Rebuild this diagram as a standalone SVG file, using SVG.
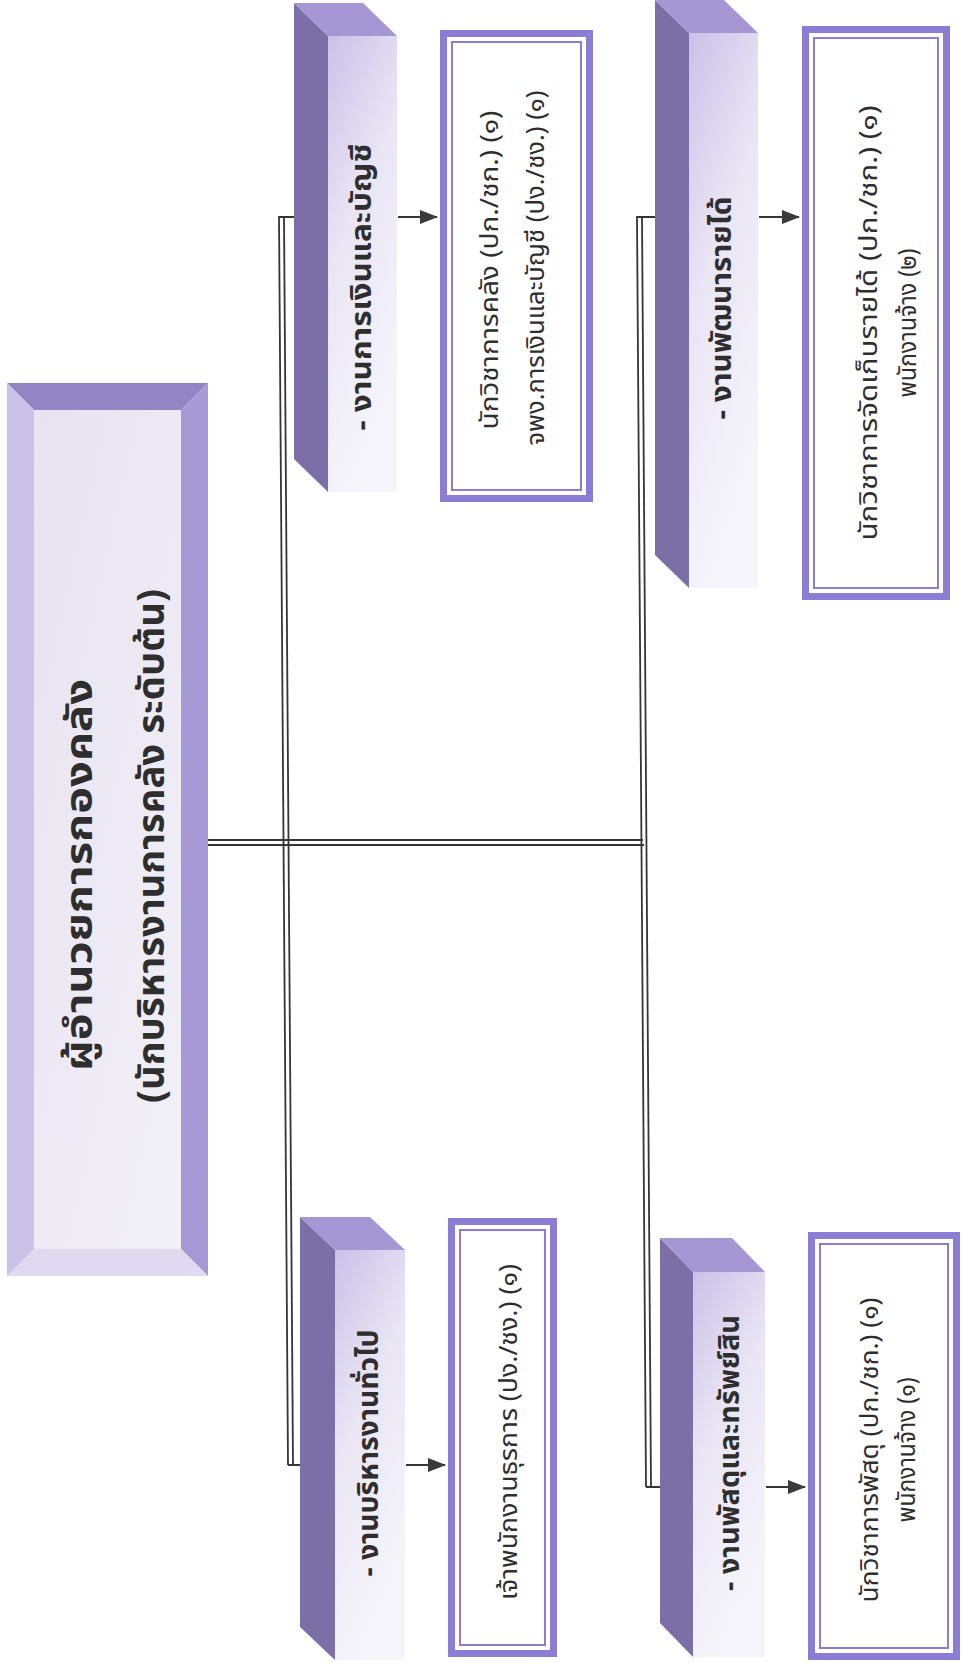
<svg xmlns="http://www.w3.org/2000/svg" width="964" height="1663" viewBox="0 0 964 1663">
<defs>
<style>
.t{font-family:'Noto Sans Thai','Noto Sans','DejaVu Sans',sans-serif;fill:#2e2e2e;text-anchor:middle}
.main{font-size:37px;font-weight:bold}
.hd{font-size:28px;font-weight:bold}
.bx{font-size:25px}
.ln{fill:none;stroke:#353535;stroke-width:1.8}
.frame{fill:#fff;stroke:#8b7dd3;stroke-width:7}
.inner{fill:none;stroke:#8b7dd3;stroke-width:2}
.side{fill:#7c6ea7}
.top{fill:#a597d3}
.front{fill:url(#gFront)}
</style>
<linearGradient id="gFront" x1="0" y1="0" x2="0.35" y2="1">
<stop offset="0" stop-color="#cbc1e8"/>
<stop offset="0.45" stop-color="#e9e5f4"/>
<stop offset="1" stop-color="#f6f5fb"/>
</linearGradient>
<linearGradient id="gMain" x1="0" y1="0" x2="1" y2="1">
<stop offset="0" stop-color="#e6e2f1"/>
<stop offset="1" stop-color="#f3f1f8"/>
</linearGradient>
<marker id="ah2" markerWidth="18" markerHeight="14" refX="17" refY="7" orient="auto" markerUnits="userSpaceOnUse" viewBox="0 0 18 14">
<path d="M0,0 L18,7 L0,14 Z" fill="#3a3a3a"/>
</marker>
</defs>
<rect width="964" height="1663" fill="#ffffff"/>

<g id="connectors">
<path class="ln" d="M208,840 H643"/>
<path class="ln" d="M208,845 H644"/>
<path class="ln" d="M288,1465 L279,217 H314" marker-end="url(#ah2)"/>
<path class="ln" d="M284,217 L293,1465"/>
<path class="ln" d="M288,1465 H322" marker-end="url(#ah2)"/>
<path class="ln" d="M646,1487 L637,217 H673" marker-end="url(#ah2)"/>
<path class="ln" d="M642,217 L651,1487"/>
<path class="ln" d="M646,1487 H682" marker-end="url(#ah2)"/>
<path class="ln" d="M398,217 H437" marker-end="url(#ah2)"/>
<path class="ln" d="M759,217 H799" marker-end="url(#ah2)"/>
<path class="ln" d="M406,1465 H445" marker-end="url(#ah2)"/>
<path class="ln" d="M766,1487 H805" marker-end="url(#ah2)"/>
</g>

<g id="main">
<rect x="7" y="383" width="201" height="893" fill="url(#gMain)"/>
<polygon points="7,383 208,383 181,410 34,410" fill="#9185c3"/>
<polygon points="208,383 208,1276 181,1249 181,410" fill="#a799d6"/>
<polygon points="7,1276 208,1276 181,1249 34,1249" fill="#e0daf0"/>
<polygon points="7,383 34,410 34,1249 7,1276" fill="#cbc2e7"/>
<text class="t main" transform="translate(92,875) rotate(-90)" textLength="392" lengthAdjust="spacingAndGlyphs">ผู้อำนวยการกองคลัง</text>
<text class="t main" transform="translate(164,846) rotate(-90)" textLength="514" lengthAdjust="spacingAndGlyphs">(นักบริหารงานการคลัง ระดับต้น)</text>
</g>

<g id="work-finance">
<polygon class="side" points="294,3 328,36 328,492 294,459"/>
<polygon class="top" points="294,3 363,3 397,36 328,36"/>
<rect class="front" x="328" y="36" width="69" height="456"/>
<text class="t hd" transform="translate(371,287) rotate(-90)" textLength="287" lengthAdjust="spacingAndGlyphs">- งานการเงินและบัญชี</text>
</g>

<g id="staff-finance">
<rect class="frame" x="443.5" y="33.5" width="146" height="465"/>
<rect class="inner" x="452" y="42" width="129" height="448"/>
<text class="t bx" transform="translate(498,270) rotate(-90)" textLength="319" lengthAdjust="spacingAndGlyphs">นักวิชาการคลัง (ปก./ชก.) (๑)</text>
<text class="t bx" transform="translate(544,268) rotate(-90)" textLength="355" lengthAdjust="spacingAndGlyphs">จพง.การเงินและบัญชี (ปง./ชง.) (๑)</text>
</g>

<g id="work-revenue">
<polygon class="side" points="655,0 689,33 689,588 655,555"/>
<polygon class="top" points="655,0 724,0 758,33 689,33"/>
<rect class="front" x="689" y="33" width="69" height="555"/>
<text class="t hd" transform="translate(731,308) rotate(-90)" textLength="223" lengthAdjust="spacingAndGlyphs">- งานพัฒนารายได้</text>
</g>

<g id="staff-revenue">
<rect class="frame" x="805.5" y="29.5" width="141" height="567"/>
<rect class="inner" x="814" y="38" width="124" height="550"/>
<text class="t bx" transform="translate(877,323) rotate(-90)" textLength="435" lengthAdjust="spacingAndGlyphs">นักวิชาการจัดเก็บรายได้ (ปก./ชก.) (๑)</text>
<text class="t bx" transform="translate(916,323) rotate(-90)" textLength="149" lengthAdjust="spacingAndGlyphs">พนักงานจ้าง (๒)</text>
</g>

<g id="work-admin">
<polygon class="side" points="300,1217 335,1250 335,1660 300,1627"/>
<polygon class="top" points="300,1217 370,1217 405,1250 335,1250"/>
<rect class="front" x="335" y="1250" width="70" height="410"/>
<text class="t hd" transform="translate(378,1453) rotate(-90)" textLength="247" lengthAdjust="spacingAndGlyphs">- งานบริหารงานทั่วไป</text>
</g>

<g id="staff-admin">
<rect class="frame" x="451.5" y="1221.5" width="102" height="432"/>
<rect class="inner" x="460" y="1230" width="85" height="415"/>
<text class="t bx" transform="translate(517,1432) rotate(-90)" textLength="336" lengthAdjust="spacingAndGlyphs">เจ้าพนักงานธุรการ (ปง./ชง.) (๑)</text>
</g>

<g id="work-supplies">
<polygon class="side" points="660,1238 693,1272 693,1657 660,1623"/>
<polygon class="top" points="660,1238 732,1238 765,1272 693,1272"/>
<rect class="front" x="693" y="1272" width="72" height="385"/>
<text class="t hd" transform="translate(739,1453) rotate(-90)" textLength="276" lengthAdjust="spacingAndGlyphs">- งานพัสดุและทรัพย์สิน</text>
</g>

<g id="staff-supplies">
<rect class="frame" x="811.5" y="1235.5" width="145" height="421"/>
<rect class="inner" x="820" y="1244" width="128" height="404"/>
<text class="t bx" transform="translate(878,1450) rotate(-90)" textLength="305" lengthAdjust="spacingAndGlyphs">นักวิชาการพัสดุ (ปก./ชก.) (๑)</text>
<text class="t bx" transform="translate(915,1450) rotate(-90)" textLength="145" lengthAdjust="spacingAndGlyphs">พนักงานจ้าง (๑)</text>
</g>
</svg>
